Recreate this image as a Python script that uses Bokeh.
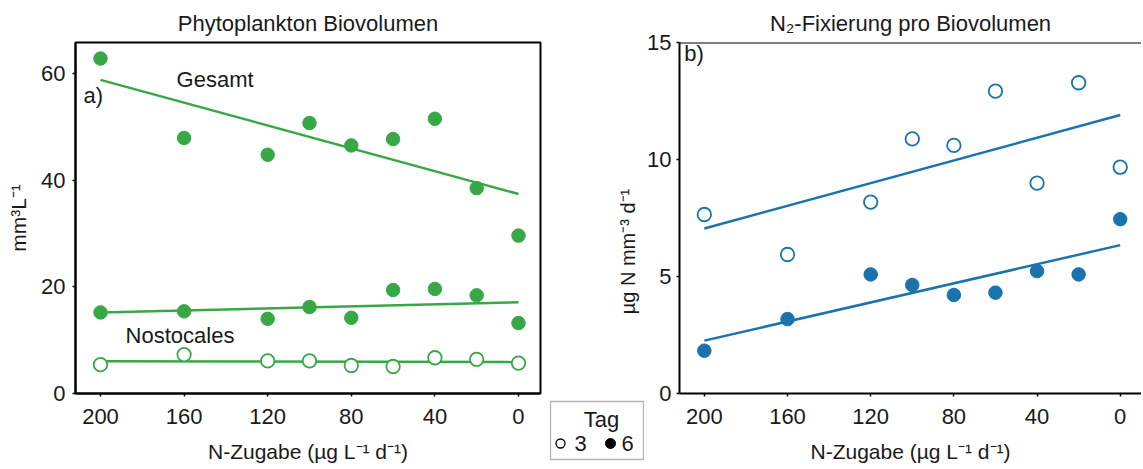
import numpy as np
from bokeh.plotting import figure
from bokeh.models import Range1d, FixedTicker, Label, Span, BoxAnnotation
from bokeh.layouts import row, column
from bokeh.embed import file_html
from bokeh.resources import INLINE

# ---------------- data ----------------
n_zugabe = [200, 160, 120, 100, 80, 60, 40, 20, 0]
x_ticks = [200, 160, 120, 80, 40, 0]

# panel a) Phytoplankton Biovolumen (mm3 L-1)
gesamt_tag6 = [62.8, 47.9, 44.75, 50.7, 46.5, 47.7, 51.5, 38.5, 29.6]
nostoc_tag6 = [15.2, 15.4, 14.0, 16.2, 14.2, 19.4, 19.6, 18.4, 13.2]
nostoc_tag3 = [5.4, 7.3, 6.1, 6.1, 5.25, 5.06, 6.7, 6.4, 5.7]
trend_x = [200, 0]
gesamt_trend = [58.8, 37.4]
nostoc6_trend = [15.2, 17.1]
nostoc3_trend = [6.05, 5.9]
a_yticks = [0, 20, 40, 60]

# panel b) N2-Fixierung pro Biovolumen (ug N mm-3 d-1)
fix_tag3 = [7.65, 5.94, 8.18, 10.88, 10.6, 12.92, 8.99, 13.28, 9.67]
fix_tag6 = [1.83, 3.18, 5.09, 4.64, 4.21, 4.31, 5.23, 5.09, 7.45]
fix3_trend = [7.05, 11.9]
fix6_trend = [2.26, 6.34]
b_yticks = [0, 5, 10, 15]

legend_title = "Tag"
legend_days = ["3", "6"]

FONT = "Liberation Sans"
GREEN = "#38a846"
BLUE = "#1b73ae"
TXT = "#1a1a1a"
H = 469
TOP = 42
X_LABEL = "N-Zugabe (µg L⁻¹ d⁻¹)"


def style(p, xt, yt):
    p.xgrid.visible = False
    p.ygrid.visible = False
    for ax in (p.xaxis[0], p.yaxis[0]):
        ax.axis_line_width = 2
        ax.axis_line_color = "black"
        ax.major_tick_line_width = 1.5
        ax.major_tick_in = 0
        ax.major_tick_out = 3
        ax.minor_tick_line_color = None
        ax.major_label_text_font = FONT
        ax.major_label_text_font_size = "22px"
        ax.major_label_text_color = TXT
        ax.axis_label_text_font = FONT
        ax.axis_label_text_font_size = "21px"
        ax.axis_label_text_font_style = "normal"
        ax.axis_label_text_color = TXT
    p.xaxis.ticker = FixedTicker(ticks=xt)
    p.yaxis.ticker = FixedTicker(ticks=yt)
    p.xaxis.major_label_standoff = 12
    p.xaxis.axis_label = X_LABEL
    p.xaxis.axis_label_standoff = 13
    p.title.align = "center"
    p.title.text_font = FONT
    p.title.text_font_size = "22px"
    p.title.text_font_style = "normal"
    p.title.text_color = TXT
    p.title.standoff = 13


def lab(p, x, y, text, size="22px", align="left", baseline="middle", angle=0.0):
    p.add_layout(Label(x=x, y=y, text=text, text_font=FONT, text_font_size=size,
                       text_color=TXT, text_align=align, text_baseline=baseline,
                       angle=angle))


def blank(width, height, x0, x1, y0, y1):
    f = figure(width=width, height=height, x_range=Range1d(x0, x1), y_range=Range1d(y1, y0),
               output_backend="svg", toolbar_location=None,
               x_axis_location=None, y_axis_location=None,
               min_border_left=0, min_border_right=0, min_border_top=0, min_border_bottom=0)
    f.xgrid.visible = False
    f.ygrid.visible = False
    f.outline_line_color = None
    return f


# ---------------- panel a ----------------
pa = figure(width=545, height=H, title="Phytoplankton Biovolumen",
            x_range=Range1d(211.96, -10.53), y_range=Range1d(0, 65.8),
            output_backend="svg", toolbar_location=None,
            min_border_left=75, min_border_right=5, min_border_top=TOP, min_border_bottom=H - 393)
style(pa, x_ticks, a_yticks)
pa.yaxis.major_label_standoff = 7
pa.yaxis.axis_label = "mm³L⁻¹"
pa.yaxis.axis_label_standoff = 8
pa.outline_line_color = "black"
pa.outline_line_width = 2
pa.outline_line_alpha = 1

pa.line(trend_x, gesamt_trend, line_color=GREEN, line_width=2.5)
pa.line(trend_x, nostoc6_trend, line_color=GREEN, line_width=2.5)
pa.line(trend_x, nostoc3_trend, line_color=GREEN, line_width=2.5)
pa.scatter(n_zugabe, gesamt_tag6, size=13.5, fill_color=GREEN, line_color=GREEN)
pa.scatter(n_zugabe, nostoc_tag6, size=13.5, fill_color=GREEN, line_color=GREEN)
pa.scatter(n_zugabe, nostoc_tag3, size=13.5, fill_color="white", line_color=GREEN, line_width=1.8)

lab(pa, 208.1, 55.9, "a)")
lab(pa, 163.6, 58.9, "Gesamt")
lab(pa, 188.0, 10.9, "Nostocales")

# ---------------- middle strip: y label of panel b + legend ----------------
mid_top = blank(99, 395, 545, 644, 0, 395)
lab(mid_top, 627.5, 251, "µg N mm⁻³ d⁻¹", size="20px", align="center", angle=np.pi / 2)

mid_bot = blank(99, H - 395, 545, 644, 395, H)
mid_bot.add_layout(BoxAnnotation(left=550, right=643, top=401, bottom=459,
                                 fill_color=None, line_color="black", line_width=1.3))
lab(mid_bot, 601, 419, legend_title, align="center")
mid_bot.scatter([560], [443], size=9, fill_color="white", line_color="black", line_width=1.3)
mid_bot.scatter([610], [443], size=10, fill_color="black", line_color="black")
lab(mid_bot, 574, 443, legend_days[0])
lab(mid_bot, 621, 443, legend_days[1])

mid = column(mid_top, mid_bot)

# ---------------- panel b ----------------
pb = figure(width=497, height=H, title="N₂-Fixierung pro Biovolumen",
            x_range=Range1d(211.94, -10.23), y_range=Range1d(0, 15),
            output_backend="svg", toolbar_location=None,
            min_border_left=32, min_border_right=0, min_border_top=TOP, min_border_bottom=H - 393)
style(pb, x_ticks, b_yticks)
pb.yaxis.major_label_standoff = 5
pb.outline_line_color = None
pb.add_layout(Span(location=15, dimension="width", line_color="black", line_width=2))

pb.line(trend_x, fix3_trend, line_color=BLUE, line_width=2.5)
pb.line(trend_x, fix6_trend, line_color=BLUE, line_width=2.5)
pb.scatter(n_zugabe, fix_tag3, size=13.5, fill_color="white", line_color=BLUE, line_width=1.8)
pb.scatter(n_zugabe, fix_tag6, size=13.5, fill_color=BLUE, line_color=BLUE)

lab(pb, 209.6, 14.52, "b)")

layout = row(pa, mid, pb)
open("out.html", "w").write(file_html(layout, INLINE))
